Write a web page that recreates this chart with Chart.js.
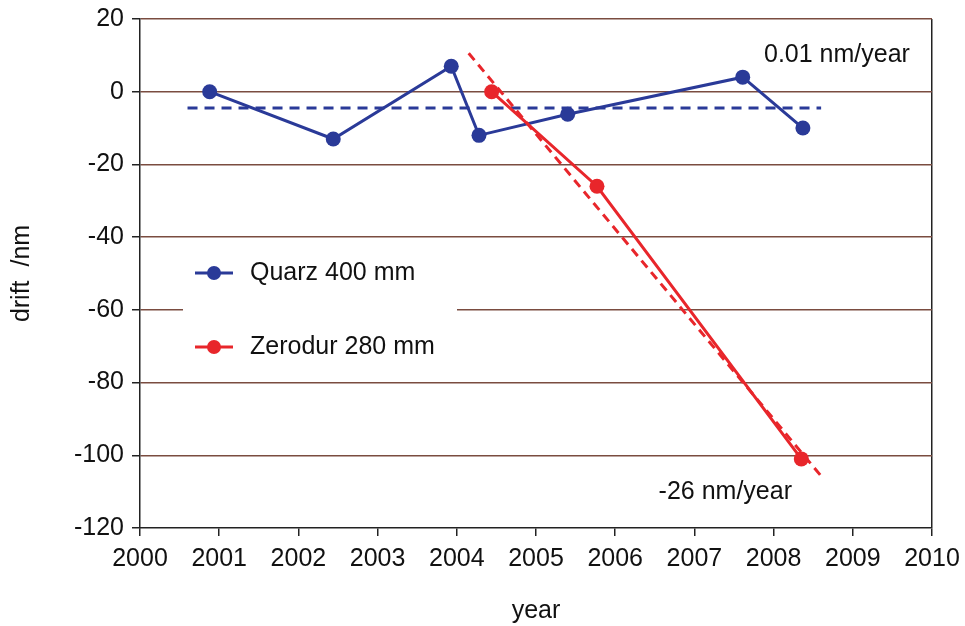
<!DOCTYPE html>
<html>
<head>
<meta charset="utf-8">
<script src="https://cdn.jsdelivr.net/npm/chart.js@4/dist/chart.umd.min.js"></script>
<style>
  body { margin: 0; background: #fff; }
  #wrap { width: 965px; height: 626px; }
</style>
</head>
<body>
<div id="wrap"><canvas id="drift" width="965" height="626"></canvas></div>
<script>
// measured values (year, drift in nm)
const quarzYears = [2000.88, 2002.44, 2003.93, 2004.28, 2005.40, 2007.61, 2008.37];
const quarzDrift = [0, -13, 7, -12, -6.2, 4, -10];
const zerodurYears = [2004.44, 2005.77, 2008.35];
const zerodurDrift = [0, -26, -101];

// fitted trend lines (end points)
const quarzFitYears = [2000.6, 2008.6];
const quarzFitDrift = [-4.5, -4.5];
const zerodurFitYears = [2004.15, 2008.63];
const zerodurFitDrift = [10.6, -106.5];

const yearTicks = [2000, 2001, 2002, 2003, 2004, 2005, 2006, 2007, 2008, 2009, 2010];
const driftTicks = [20, 0, -20, -40, -60, -80, -100, -120];

// slope labels: [text, year, drift]
const slopeLabels = [
    ['0.01 nm/year', 2008.8, 10.2],
    ['-26 nm/year', 2007.39, -110]
];

const BLUE = '#2a3a98';
const RED = '#e8262b';
const GRID = '#7a4c40';
const FONT = '"Liberation Sans", Arial, sans-serif';

const toPoints = (xs, ys) => xs.map((x, i) => ({ x: x, y: ys[i] }));

// legend box + slope labels, drawn on the plot
const overlay = {
    id: 'overlay',
    beforeDatasetsDraw(chart) {
        const { ctx, chartArea } = chart;
        const l = chartArea.left, t = chartArea.top;
        ctx.save();
        ctx.fillStyle = '#fff';
        ctx.fillRect(l + 43, t + 226, 274, 125);

        const entries = [chart.data.datasets[0], chart.data.datasets[1]];
        entries.forEach((ds, i) => {
            const y = t + 254 + i * 74;
            ctx.strokeStyle = ds.borderColor;
            ctx.lineWidth = 3;
            ctx.beginPath();
            ctx.moveTo(l + 55, y);
            ctx.lineTo(l + 93, y);
            ctx.stroke();
            ctx.fillStyle = ds.borderColor;
            ctx.beginPath();
            ctx.arc(l + 74, y, 7, 0, Math.PI * 2);
            ctx.fill();
            ctx.fillStyle = '#111';
            ctx.font = '25px ' + FONT;
            ctx.textAlign = 'left';
            ctx.textBaseline = 'middle';
            ctx.fillText(ds.label, l + 110, y);
        });
        ctx.restore();
    },
    afterDatasetsDraw(chart) {
        const { ctx, scales } = chart;
        ctx.save();
        ctx.fillStyle = '#111';
        ctx.font = '25px ' + FONT;
        ctx.textAlign = 'center';
        ctx.textBaseline = 'middle';
        slopeLabels.forEach(([text, x, y]) => {
            ctx.fillText(text, scales.x.getPixelForValue(x), scales.y.getPixelForValue(y));
        });
        ctx.restore();
    }
};

new Chart(document.getElementById('drift'), {
    type: 'line',
    data: {
        datasets: [
            {
                label: 'Quarz 400 mm',
                data: toPoints(quarzYears, quarzDrift),
                borderColor: BLUE,
                backgroundColor: BLUE,
                borderWidth: 3,
                pointRadius: 7.5,
                pointBorderWidth: 0,
                order: 3
            },
            {
                label: 'Zerodur 280 mm',
                data: toPoints(zerodurYears, zerodurDrift),
                borderColor: RED,
                backgroundColor: RED,
                borderWidth: 3,
                pointRadius: 7.5,
                pointBorderWidth: 0,
                order: 1
            },
            {
                label: 'Quarz fit',
                data: toPoints(quarzFitYears, quarzFitDrift),
                borderColor: BLUE,
                borderWidth: 3,
                borderDash: [10, 7],
                pointRadius: 0,
                order: 4
            },
            {
                label: 'Zerodur fit',
                data: toPoints(zerodurFitYears, zerodurFitDrift),
                borderColor: RED,
                borderWidth: 3,
                borderDash: [9, 6],
                pointRadius: 0,
                order: 2
            }
        ]
    },
    options: {
        responsive: false,
        animation: false,
        events: [],
        layout: { padding: { left: 0, right: 33, top: 19, bottom: 0 } },
        plugins: {
            legend: { display: false },
            tooltip: { enabled: false }
        },
        scales: {
            x: {
                type: 'linear',
                min: yearTicks[0],
                max: yearTicks[yearTicks.length - 1],
                afterBuildTicks: (s) => { s.ticks = yearTicks.map(v => ({ value: v })); },
                afterFit: (s) => { s.height = 98; s.paddingLeft = 0; s.paddingRight = 0; },
                ticks: {
                    padding: 8,
                    color: '#111',
                    font: { size: 25, family: FONT },
                    callback: (v) => String(v)
                },
                grid: {
                    color: (c) => (c.tick && c.tick.value === 2010) ? '#222' : 'rgba(0,0,0,0)',
                    tickColor: '#222',
                    tickLength: 8,
                    lineWidth: 1.5
                },
                border: { display: true, color: '#222', width: 1.5 },
                title: {
                    display: true,
                    text: 'year',
                    color: '#111',
                    font: { size: 25, family: FONT },
                    padding: { top: 0, bottom: 0 }
                }
            },
            y: {
                min: -120,
                max: 20,
                afterBuildTicks: (s) => { s.ticks = driftTicks.slice().reverse().map(v => ({ value: v })); },
                afterFit: (s) => { s.width = 140; s.paddingTop = 0; s.paddingBottom = 0; },
                ticks: {
                    padding: 8,
                    color: '#111',
                    font: { size: 25, family: FONT },
                    callback: (v) => String(v)
                },
                grid: {
                    color: (c) => (c.tick && c.tick.value === -120) ? 'rgba(0,0,0,0)' : GRID,
                    tickColor: '#222',
                    tickLength: 8,
                    lineWidth: 1.5
                },
                border: { display: true, color: '#222', width: 1.5 },
                title: {
                    display: true,
                    text: 'drift  /nm',
                    color: '#111',
                    font: { size: 25, family: FONT },
                    padding: { top: 7, bottom: 0 }
                }
            }
        }
    },
    plugins: [overlay]
});
</script>
</body>
</html>
